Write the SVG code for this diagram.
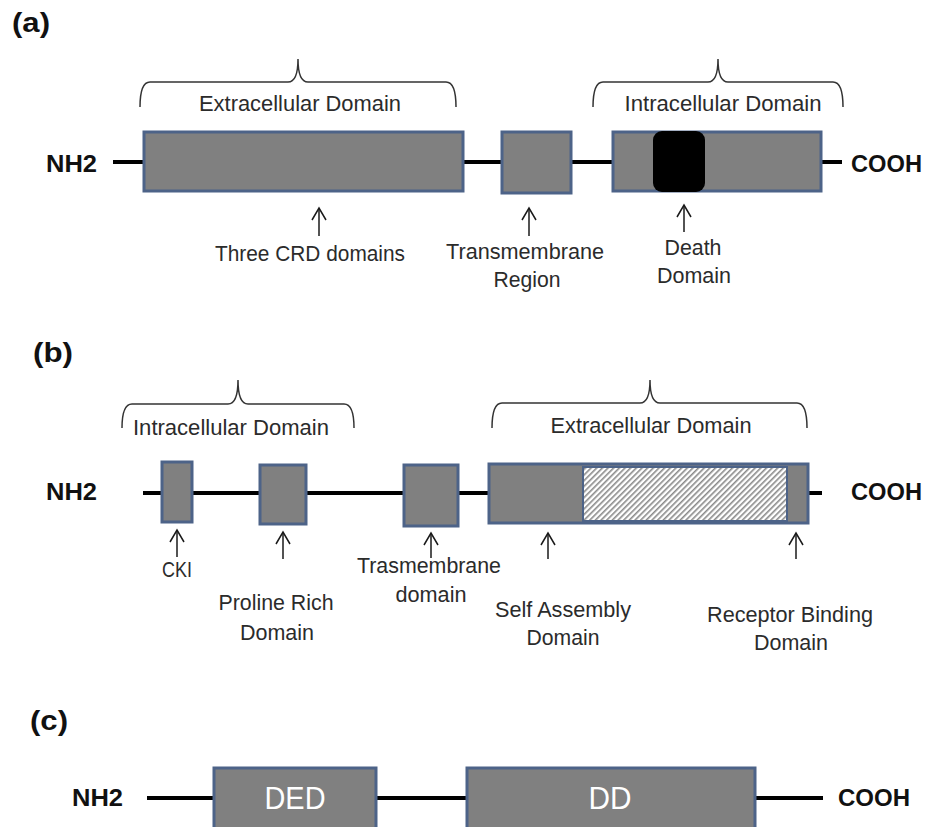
<svg xmlns="http://www.w3.org/2000/svg" width="925" height="827" viewBox="0 0 925 827">
<style>
.bg{fill:#ffffff}
.box{fill:#808080;stroke:#4d6388;stroke-width:3}
.bb{stroke:#000;stroke-width:4;fill:none}
.brace{stroke:#333333;stroke-width:1.5;fill:none}
.arr{stroke:#1a1a1a;stroke-width:1.5;fill:none;marker-end:url(#ah)}
.lbl{font-family:"Liberation Sans",Arial,sans-serif;font-size:22px;fill:#2b2b2b;text-anchor:middle}
.term{font-family:"Liberation Sans",Arial,sans-serif;font-size:23px;font-weight:bold;fill:#111}
.pan{font-family:"Liberation Sans",Arial,sans-serif;font-size:28px;font-weight:bold;fill:#111}
.wt{font-family:"Liberation Sans",Arial,sans-serif;font-size:32px;fill:#ffffff;text-anchor:middle}
</style>
<defs>
<marker id="ah" markerUnits="userSpaceOnUse" markerWidth="16" markerHeight="16" refX="0" refY="0" orient="auto" overflow="visible">
<path d="M-12,-7 L0,0 L-12,7" fill="none" stroke="#1a1a1a" stroke-width="1.5"/>
</marker>
<pattern id="hatch" patternUnits="userSpaceOnUse" width="4" height="4" patternTransform="rotate(45)">
<rect x="0" y="0" width="4" height="4" fill="#ffffff"/>
<rect x="0" y="0" width="1.6" height="4" fill="#8a8a8a"/>
</pattern>
</defs>
<rect class="bg" x="0" y="0" width="925" height="827"/>

<!-- panel labels -->
<text class="pan" x="12" y="32" textLength="38" lengthAdjust="spacingAndGlyphs">(a)</text>
<text class="pan" x="33" y="362" textLength="40" lengthAdjust="spacingAndGlyphs">(b)</text>
<text class="pan" x="30" y="730" textLength="38" lengthAdjust="spacingAndGlyphs">(c)</text>

<g id="connectors">
<!-- backbones -->
<line class="bb" x1="113" y1="162" x2="842" y2="162"/>
<line class="bb" x1="143" y1="493" x2="822" y2="493"/>
<line class="bb" x1="147" y1="798" x2="823" y2="798"/>
<!-- braces -->
<path class="brace" d="M140,107 Q140,82 150,82 L288,82 Q298,82 298,59 Q298,82 308,82 L446,82 Q456,82 456,107"/>
<path class="brace" d="M593,107 Q593,82 603,82 L708,82 Q718,82 718,59 Q718,82 728,82 L833,82 Q843,82 843,107"/>
<path class="brace" d="M122,428 Q122,404 132,404 L228,404 Q238,404 238,380 Q238,404 248,404 L344,404 Q354,404 354,428"/>
<path class="brace" d="M492,428 Q492,403 502,403 L640,403 Q650,403 650,380 Q650,403 660,403 L797,403 Q807,403 807,428"/>
<!-- arrows -->
<line class="arr" x1="319" y1="236" x2="319" y2="208"/>
<line class="arr" x1="529" y1="236" x2="529" y2="208"/>
<line class="arr" x1="684" y1="232" x2="684" y2="205"/>
<line class="arr" x1="177" y1="557" x2="177" y2="530"/>
<line class="arr" x1="283" y1="559" x2="283" y2="532"/>
<line class="arr" x1="431" y1="558" x2="431" y2="533"/>
<line class="arr" x1="548" y1="559" x2="548" y2="533"/>
<line class="arr" x1="796" y1="559" x2="796" y2="533"/>
</g>

<!-- Panel (a) -->
<g id="a-nh2"><text class="term" x="46" y="172" textLength="51" lengthAdjust="spacingAndGlyphs">NH2</text></g>
<g id="a-cooh"><text class="term" x="851" y="172" textLength="71" lengthAdjust="spacingAndGlyphs">COOH</text></g>
<g id="a-extra-label"><text class="lbl" x="300" y="111" textLength="202" lengthAdjust="spacingAndGlyphs">Extracellular Domain</text></g>
<g id="a-intra-label"><text class="lbl" x="723" y="111" textLength="197" lengthAdjust="spacingAndGlyphs">Intracellular Domain</text></g>
<g id="a-crd"><rect class="box" x="144" y="132" width="319" height="59"/>
<text class="lbl" x="310" y="261" textLength="190" lengthAdjust="spacingAndGlyphs">Three CRD domains</text></g>
<g id="a-tm"><rect class="box" x="502" y="132" width="69" height="61"/>
<text class="lbl" x="525" y="259" textLength="158" lengthAdjust="spacingAndGlyphs">Transmembrane</text>
<text class="lbl" x="527" y="287" textLength="67" lengthAdjust="spacingAndGlyphs">Region</text></g>
<g id="a-intra"><rect class="box" x="613" y="132" width="208" height="59"/></g>
<g id="a-death"><rect x="653" y="131" width="52" height="61" rx="9" fill="#000"/>
<text class="lbl" x="693" y="255" textLength="57" lengthAdjust="spacingAndGlyphs">Death</text>
<text class="lbl" x="694" y="283" textLength="74" lengthAdjust="spacingAndGlyphs">Domain</text></g>

<!-- Panel (b) -->
<g id="b-nh2"><text class="term" x="46" y="500" textLength="51" lengthAdjust="spacingAndGlyphs">NH2</text></g>
<g id="b-cooh"><text class="term" x="851" y="500" textLength="71" lengthAdjust="spacingAndGlyphs">COOH</text></g>
<g id="b-intra-label"><text class="lbl" x="231" y="435" textLength="196" lengthAdjust="spacingAndGlyphs">Intracellular Domain</text></g>
<g id="b-extra-label"><text class="lbl" x="651" y="433" textLength="201" lengthAdjust="spacingAndGlyphs">Extracellular Domain</text></g>
<g id="b-cki"><rect class="box" x="162" y="462" width="30" height="60"/>
<text class="lbl" x="177" y="577" textLength="30" lengthAdjust="spacingAndGlyphs">CKI</text></g>
<g id="b-proline"><rect class="box" x="260" y="465" width="46" height="59"/>
<text class="lbl" x="276" y="610" textLength="115" lengthAdjust="spacingAndGlyphs">Proline Rich</text>
<text class="lbl" x="277" y="640" textLength="74" lengthAdjust="spacingAndGlyphs">Domain</text></g>
<g id="b-tm"><rect class="box" x="404" y="465" width="54" height="61"/>
<text class="lbl" x="429" y="573" textLength="144" lengthAdjust="spacingAndGlyphs">Trasmembrane</text>
<text class="lbl" x="431" y="602" textLength="71" lengthAdjust="spacingAndGlyphs">domain</text></g>
<g id="b-extra"><rect class="box" x="489" y="464" width="319" height="59"/>
<rect x="583" y="467" width="204" height="54" fill="url(#hatch)" stroke="#4d6388" stroke-width="2"/></g>
<g id="b-self"><text class="lbl" x="563" y="617" textLength="136" lengthAdjust="spacingAndGlyphs">Self Assembly</text>
<text class="lbl" x="563" y="645" textLength="73" lengthAdjust="spacingAndGlyphs">Domain</text></g>
<g id="b-receptor"><text class="lbl" x="790" y="622" textLength="166" lengthAdjust="spacingAndGlyphs">Receptor Binding</text>
<text class="lbl" x="791" y="650" textLength="74" lengthAdjust="spacingAndGlyphs">Domain</text></g>

<!-- Panel (c) -->
<g id="c-nh2"><text class="term" x="72" y="806" font-size="22" textLength="51" lengthAdjust="spacingAndGlyphs">NH2</text></g>
<g id="c-cooh"><text class="term" x="838" y="806" font-size="22" textLength="72" lengthAdjust="spacingAndGlyphs">COOH</text></g>
<g id="c-ded"><rect class="box" x="214" y="768" width="162" height="64"/>
<text class="wt" x="295" y="809" textLength="61" lengthAdjust="spacingAndGlyphs">DED</text></g>
<g id="c-dd"><rect class="box" x="467" y="768" width="288" height="64"/>
<text class="wt" x="610" y="809" textLength="43" lengthAdjust="spacingAndGlyphs">DD</text></g>
</svg>
